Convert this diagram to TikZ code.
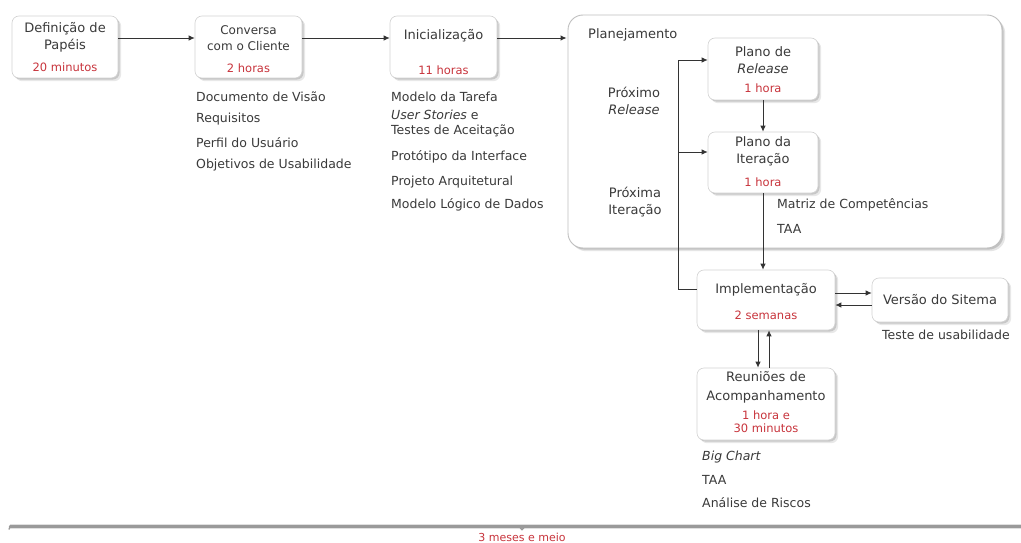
\documentclass[tikz,border=0pt]{standalone}
\usepackage{fontspec}
\setmainfont{DejaVu Sans}
\usetikzlibrary{arrows.meta,shadows}
\definecolor{ink}{HTML}{3A3A3A}
\definecolor{dur}{HTML}{C8343C}
\definecolor{edge}{HTML}{D2D2D2}
\definecolor{wire}{HTML}{333333}
\definecolor{rulecol}{HTML}{9A9A9A}

\begin{document}
\begin{tikzpicture}[x=1pt,y=-1pt,
  box/.style={draw=edge, line width=0.6pt, fill=white, rounded corners=7pt, inner sep=0,
    general shadow={fill=black!9, shadow xshift=3.2pt, shadow yshift=-3.2pt},
    general shadow={fill=black!22, shadow xshift=1.6pt, shadow yshift=-1.6pt}},
  group/.style={draw=black!25, line width=0.9pt, fill=white, rounded corners=15pt, inner sep=0,
    general shadow={fill=black!10, shadow xshift=3.2pt, shadow yshift=-3.2pt},
    general shadow={fill=black!24, shadow xshift=1.6pt, shadow yshift=-1.6pt}},
  ttl/.style={inner sep=0, text=ink, align=center, font=\fontsize{13}{17}\selectfont},
  dtx/.style={inner sep=0, text=dur, align=center, font=\fontsize{11.5}{13}\selectfont},
  lst/.style={inner sep=0, text=ink, anchor=west, align=left, font=\fontsize{12.5}{15}\selectfont},
  arr/.style={draw=wire, line width=0.9pt, -{Latex[length=6pt,width=5.5pt]}},
  ln/.style={draw=wire, line width=0.9pt},
]
\clip (0,0) rectangle (1021,543);
\fill[white] (0,0) rectangle (1021,543);

% planning group container
\node[group, minimum width=434pt, minimum height=233pt] (plan) at (785,131.5) {};
\node[ttl, anchor=west] (planT) at (588,35) {Planejamento};

% stage boxes
\node[box, minimum width=106pt, minimum height=62pt] (def)  at (65,47) {};
\node[box, minimum width=107pt, minimum height=62pt] (conv) at (248.5,47) {};
\node[box, minimum width=107pt, minimum height=62pt] (inic) at (443.5,47) {};
\node[box, minimum width=110pt, minimum height=62pt] (rel)  at (763,69) {};
\node[box, minimum width=110pt, minimum height=61pt] (ite)  at (763,162.5) {};
\node[box, minimum width=138pt, minimum height=60pt] (impl) at (766,300) {};
\node[box, minimum width=136pt, minimum height=44pt] (ver)  at (940,300) {};
\node[box, minimum width=138pt, minimum height=72pt] (reu)  at (766,404) {};

% box texts
\node[ttl] (defT) at (65,37) {Definição de\\Papéis};
\node[dtx] (defD) at (65,67) {20 minutos};
\node[ttl, font=\fontsize{12}{16}\selectfont] (convT) at (248.5,38) {Conversa\\com o Cliente};
\node[dtx] (convD) at (248.5,68) {2 horas};
\node[ttl] (inicT) at (443.5,36) {Inicialização};
\node[dtx] (inicD) at (443.5,70) {11 horas};
\node[ttl] (relT) at (763,60.5) {Plano de\\\textit{Release}};
\node[dtx] (relD) at (763,88) {1 hora};
\node[ttl] (iteT) at (763,151.5) {Plano da\\Iteração};
\node[dtx] (iteD) at (763,182) {1 hora};
\node[ttl] (implT) at (766,290) {Implementação};
\node[dtx] (implD) at (766,315) {2 semanas};
\node[ttl] (verT) at (940,300) {Versão do Sitema};
\node[ttl, font=\fontsize{13}{19}\selectfont] (reuT) at (766,387.5) {Reuniões de\\Acompanhamento};
\node[dtx] (reuD) at (766,421.5) {1 hora e\\30 minutos};

% loop labels
\node[ttl] (nextRel) at (634,100.5) {Próximo\\\textit{Release}};
\node[ttl] (nextIte) at (635,202) {Próxima\\Iteração};

% artefact lists
\node[lst] (c1) at (196,97)  {Documento de Visão};
\node[lst] (c2) at (196,119) {Requisitos};
\node[lst] (c3) at (196,143) {Perfil do Usuário};
\node[lst] (c4) at (196,165) {Objetivos de Usabilidade};

\node[lst] (i1) at (391,97)    {Modelo da Tarefa};
\node[lst] (i2) at (391,123.5) {\textit{User Stories} e\\Testes de Aceitação};
\node[lst] (i3) at (391,157)   {Protótipo da Interface};
\node[lst] (i4) at (391,182)   {Projeto Arquitetural};
\node[lst] (i5) at (391,205)   {Modelo Lógico de Dados};

\node[lst] (p1) at (777,205) {Matriz de Competências};
\node[lst] (p2) at (777,229) {TAA};

\node[lst] (v1) at (882,335) {Teste de usabilidade};

\node[lst] (r1) at (702,457) {\textit{Big Chart}};
\node[lst] (r2) at (702,480) {TAA};
\node[lst] (r3) at (702,503) {Análise de Riscos};

% main flow
\draw[arr] ([yshift=9pt]def.east) -- ([yshift=9pt]conv.west);
\draw[arr] ([yshift=9pt]conv.east) -- ([yshift=9pt]inic.west);
\coordinate (inOut) at ([yshift=9pt]inic.east);
\draw[arr] (inOut) -- ([xshift=-1pt]inOut -| plan.west);

% planning cycle
\draw[arr] (rel.south) -- (ite.north);
\draw[arr] (ite.south) -- (ite.south |- impl.north);
\coordinate (loopX) at (678,0);
\coordinate (relIn) at ([yshift=9pt]rel.west);
\coordinate (iteIn) at ([yshift=10.5pt]ite.west);
\draw[ln] ([yshift=11pt]impl.west) -| (loopX |- relIn);
\draw[arr] (loopX |- relIn) -- (relIn);
\draw[arr] (loopX |- iteIn) -- (iteIn);

% implementation exchanges
\draw[arr] ([yshift=7pt]impl.east) -- ([yshift=7pt]ver.west);
\draw[arr] ([yshift=-5pt]ver.west) -- ([yshift=-5pt]impl.east);
\draw[arr] ([xshift=-8pt]impl.south) -- ([xshift=-8pt]reu.north);
\draw[arr] ([xshift=3pt]reu.north) -- ([xshift=3pt]impl.south);

% overall duration brace
\coordinate (bL) at (10,526.5);
\coordinate (bR) at (1021,526.5);
\coordinate (bM) at (522,526.5);
\draw[black!12, line width=4.5pt] (bL) -- (bR);
\draw[rulecol, line width=2.4pt, line cap=round] (bL) -- (bR);
\draw[rulecol, line width=1.3pt] ([xshift=-3pt]bM) -- ([yshift=-3.2pt]bM) -- ([xshift=3pt]bM);
\draw[rulecol, line width=1.3pt] (bL) -- ([xshift=-1pt,yshift=-3pt]bL);
\node[dtx, anchor=base, font=\fontsize{11}{13}\selectfont] (total) at (522,541) {3 meses e meio};
\end{tikzpicture}
\end{document}
